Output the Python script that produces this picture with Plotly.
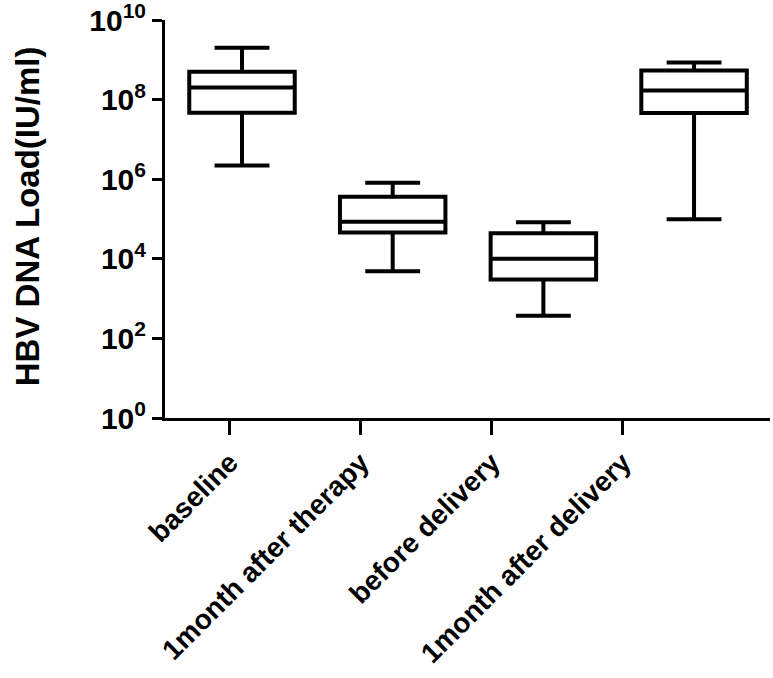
import plotly.graph_objects as go

# categories and box statistics (IU/ml)
categories = ["baseline", "1month after therapy", "before delivery", "1month after delivery"]
upper = [2.0e9, 8.1e5, 8.3e4, 8.5e8]
q3 = [5.0e8, 3.6e5, 4.4e4, 5.4e8]
median = [2.0e8, 8.5e4, 1.0e4, 1.7e8]
q1 = [4.7e7, 4.6e4, 3.0e3, 4.6e7]
lower = [2.2e6, 4.9e3, 3.7e2, 9.8e4]

y_ticks = [1, 1e2, 1e4, 1e6, 1e8, 1e10]
y_ticktext = ["10<sup>0</sup>", "10<sup>2</sup>", "10<sup>4</sup>", "10<sup>6</sup>",
              "10<sup>8</sup>", "10<sup>10</sup>"]

pos = list(range(len(categories)))
# labels in the original sit a bit left of the boxes
label_pos = [i * 0.869 - 0.08 for i in pos]

fig = go.Figure()
fig.add_trace(go.Box(
    x=pos,
    q1=q1, median=median, q3=q3,
    lowerfence=lower, upperfence=upper,
    width=0.70,
    whiskerwidth=0.52,
    fillcolor="white",
    line=dict(color="black", width=4),
    boxpoints=False,
    showlegend=False,
))

font = dict(family="Liberation Sans, Arial, sans-serif", color="black", weight="bold")

fig.update_layout(
    width=773, height=678,
    margin=dict(l=165, r=3, t=20, b=260),
    plot_bgcolor="white", paper_bgcolor="white",
    xaxis=dict(
        range=[-0.511, 3.504],
        tickvals=label_pos, ticktext=categories,
        tickangle=-45,
        ticks="outside", ticklen=14, tickwidth=3, tickcolor="black",
        showline=True, linecolor="black", linewidth=3,
        showgrid=False, zeroline=False, automargin=False,
        tickfont=dict(size=28, **font),
    ),
    yaxis=dict(
        type="log", range=[0, 10],
        tickvals=y_ticks, ticktext=y_ticktext,
        ticks="outside", ticklen=10, tickwidth=3, tickcolor="black",
        showline=True, linecolor="black", linewidth=3,
        showgrid=False, zeroline=False, automargin=False,
        ticklabeloverflow="allow",
        tickfont=dict(size=30, **font),
    ),
    annotations=[dict(
        text="HBV DNA Load(IU/ml)",
        xref="paper", yref="paper", x=-0.228, y=0.507,
        xanchor="center", yanchor="middle",
        textangle=-90, showarrow=False,
        font=dict(size=33, **font),
    )],
)

# drop the browser's default page margin so the figure fills the window
fig.write_html("out.html", config={"displayModeBar": False},
               post_script="document.body.style.margin = '0';")
